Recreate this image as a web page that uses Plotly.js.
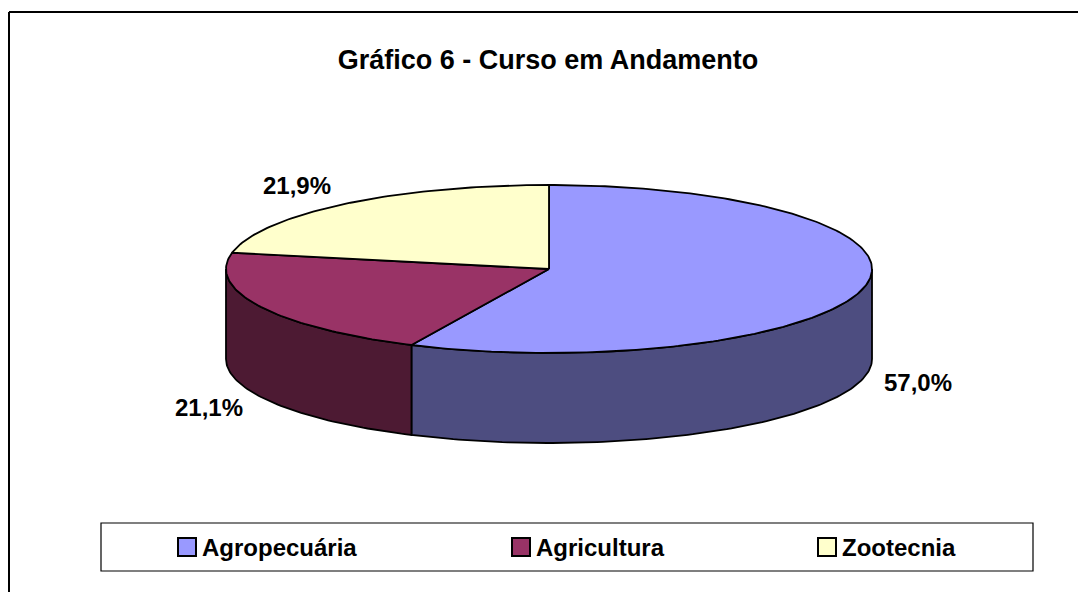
<!DOCTYPE html>
<html>
<head>
<meta charset="utf-8">
<script src="https://cdn.plot.ly/plotly-3.0.1.min.js"></script>
<style>html,body{margin:0;padding:0;background:#fff;}#chart{width:1078px;height:592px;}</style>
</head>
<body>
<div id="chart"></div>
<script>
// ---- data ----
const categories = ['Agropecuária', 'Agricultura', 'Zootecnia'];
const values = [57.0, 21.1, 21.9];
const valueLabels = ['57,0%', '21,1%', '21,9%'];
const topColors = ['#9999FF', '#993366', '#FFFFCC'];
const sideColors = ['#4D4D80', '#4D1A33', '#80806A'];
const chartTitle = 'Gráfico 6 - Curso em Andamento';

// ---- layout geometry (pixel space) ----
const W = 1078, H = 592;
const cx = 549, cy = 269, rx = 323, ry = 84, depth = 90;
const FONT = 'Liberation Sans, Arial, sans-serif';

function pt(deg, dy) {
  const r = deg * Math.PI / 180;
  return [cx + rx * Math.sin(r), cy - ry * Math.cos(r) + (dy || 0)];
}
function arc(a0, a1, dy) {
  const out = [];
  const n = Math.max(2, Math.ceil(Math.abs(a1 - a0)));
  for (let i = 0; i <= n; i++) out.push(pt(a0 + (a1 - a0) * i / n, dy));
  return out;
}

const total = values.reduce((a, b) => a + b, 0);
const slices = [];
let acc = 0;
values.forEach((v, i) => {
  const a0 = acc / total * 360;
  acc += v;
  const a1 = acc / total * 360;
  slices.push({ a0, a1, i });
});

const sideTraces = [], topTraces = [];
slices.forEach(s => {
  // visible front side: angles between 90 and 270
  const f0 = Math.max(s.a0, 90), f1 = Math.min(s.a1, 270);
  if (f1 > f0) {
    const upper = arc(f0, f1, 0);
    const lower = arc(f1, f0, depth);
    const pts = upper.concat(lower);
    pts.push(upper[0]);
    sideTraces.push({
      type: 'scatter', mode: 'lines', fill: 'toself',
      x: pts.map(p => p[0]), y: pts.map(p => p[1]),
      fillcolor: sideColors[s.i], line: { color: '#000', width: 1.8 },
      name: categories[s.i], showlegend: false, hoverinfo: 'skip'
    });
  }
  const a = arc(s.a0, s.a1, 0);
  const pts = [[cx, cy]].concat(a).concat([[cx, cy]]);
  topTraces.push({
    type: 'scatter', mode: 'lines', fill: 'toself',
    x: pts.map(p => p[0]), y: pts.map(p => p[1]),
    fillcolor: topColors[s.i], line: { color: '#000', width: 1.8 },
    name: categories[s.i], showlegend: false, hoverinfo: 'skip'
  });
});

// value labels at mid-angles, anchored on the side facing the pie
const annotations = slices.map(s => {
  const m = (s.a0 + s.a1) / 2 * Math.PI / 180;
  const sn = Math.sin(m), cs = Math.cos(m);
  return {
    x: cx + 1.055 * rx * sn,
    y: cy - 1.28 * ry * cs + (cs < 0 ? depth : 0),
    xref: 'x', yref: 'y', text: valueLabels[s.i], showarrow: false,
    xanchor: sn >= 0 ? 'left' : 'right', yanchor: 'middle',
    font: { family: FONT, size: 24, color: '#000', weight: 'bold' }
  };
});

// manual legend
const legBox = { x0: 101, y0: 523, x1: 1033, y1: 571 };
const legItemX = [178, 512, 818];
const legCy = (legBox.y0 + legBox.y1) / 2;
const sq = 18;
const shapes = [
  { type: 'line', xref: 'x', yref: 'y', x0: 9, y0: 12, x1: W, y1: 12, line: { color: '#000', width: 2 } },
  { type: 'line', xref: 'x', yref: 'y', x0: 9, y0: 12, x1: 9, y1: H, line: { color: '#000', width: 2 } },
  { type: 'rect', xref: 'x', yref: 'y', x0: legBox.x0, y0: legBox.y0, x1: legBox.x1, y1: legBox.y1,
    line: { color: '#000', width: 1.2 }, fillcolor: 'rgba(0,0,0,0)' }
];
categories.forEach((c, i) => {
  shapes.push({ type: 'rect', xref: 'x', yref: 'y',
    x0: legItemX[i], y0: legCy - sq / 2, x1: legItemX[i] + sq, y1: legCy + sq / 2,
    line: { color: '#000', width: 2 }, fillcolor: topColors[i] });
  annotations.push({ x: legItemX[i] + sq + 4, y: legCy, xref: 'x', yref: 'y',
    text: c, showarrow: false, xanchor: 'left', yanchor: 'middle',
    font: { family: FONT, size: 24, color: '#000', weight: 'bold' } });
});

const layout = {
  width: W, height: H,
  margin: { l: 0, r: 0, t: 0, b: 0, pad: 0 },
  paper_bgcolor: '#fff', plot_bgcolor: '#fff',
  showlegend: false,
  title: { text: chartTitle, x: 548 / W, xanchor: 'center', y: 1 - 60 / H, yanchor: 'middle',
    font: { family: FONT, size: 27, color: '#000', weight: 'bold' } },
  xaxis: { range: [0, W], visible: false, fixedrange: true, showgrid: false, zeroline: false },
  yaxis: { range: [H, 0], visible: false, fixedrange: true, showgrid: false, zeroline: false },
  shapes: shapes,
  annotations: annotations
};

Plotly.newPlot('chart', sideTraces.concat(topTraces), layout, { displayModeBar: false, staticPlot: true });
</script>
</body>
</html>
